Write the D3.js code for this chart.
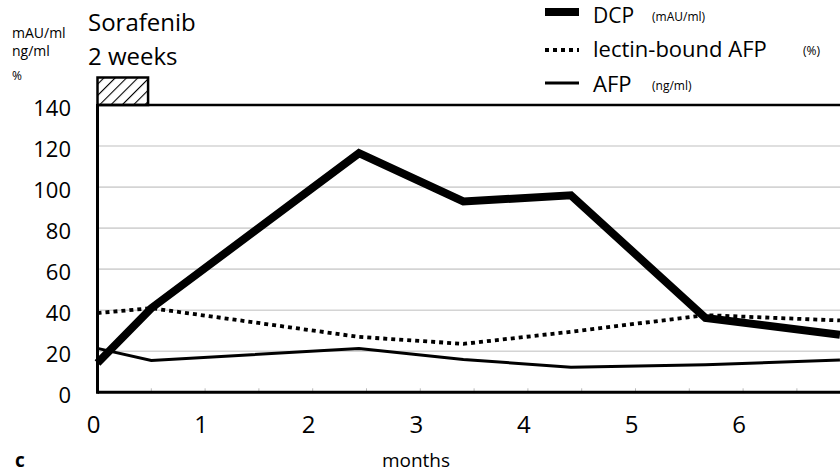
<!DOCTYPE html>
<html><head><meta charset="utf-8">
<script src="https://cdn.jsdelivr.net/npm/d3@7"></script>
<style>html,body{margin:0;padding:0;background:#fff;} svg{display:block;}</style>
</head><body>
<svg id="chart" width="840" height="472"></svg>
<script>
// ---- data ----
const months = [0, 0.5, 2.43, 3.4, 4.4, 5.65, 6.9];
const dcp    = [14.3, 41, 116.5, 93, 96, 36.2, 28];
const lectin = [38.6, 41, 27, 23.6, 29.5, 37.6, 35];
const afp    = [21.4, 15.5, 21.3, 16, 12.2, 13.4, 15.8];
const yTicks = [0, 20, 40, 60, 80, 100, 120, 140];
const xTickLabels = [0, 1, 2, 3, 4, 5, 6];
const xMinorTicks = [0.5, 1, 1.5, 2, 2.5, 3, 3.5, 4, 4.5, 5, 5.5, 6, 6.5];
const treatment = {label1: "Sorafenib", label2: "2 weeks", start: 0, end: 0.47};
const unitLabels = ["mAU/ml", "ng/ml", "%"];
const legendItems = [
  {name: "DCP", unit: "(mAU/ml)", key: "dcp"},
  {name: "lectin-bound AFP", unit: "(%)", key: "lectin"},
  {name: "AFP", unit: "(ng/ml)", key: "afp"}
];

const FONT = "'Open Sans', 'Noto Sans', sans-serif";
const styles = {
  dcp:    {w: 8,   dash: null},
  lectin: {w: 3.8, dash: "4,4"},
  afp:    {w: 3,   dash: null}
};

const svg = d3.select("#chart");
const x = d3.scaleLinear().domain([0, 7]).range([97.5, 97.5 + 107.6 * 7]);
const y = d3.scaleLinear().domain([0, 140]).range([392.3, 105]);

// hatch pattern
const defs = svg.append("defs");
const pat = defs.append("pattern").attr("id", "hatch").attr("patternUnits", "userSpaceOnUse")
  .attr("width", 8).attr("height", 8).attr("patternTransform", "rotate(45)");
pat.append("line").attr("x1", 0).attr("y1", 0).attr("x2", 0).attr("y2", 8)
  .attr("stroke", "#000").attr("stroke-width", 2.2);

// gridlines
svg.append("g").selectAll("line").data(yTicks.filter(t => t > 0 && t < 140)).join("line")
  .attr("x1", x(0)).attr("x2", 840).attr("y1", d => y(d)).attr("y2", d => y(d))
  .attr("stroke", "#d4d4d4").attr("stroke-width", 1.6);

// minor x ticks (inside)
svg.append("g").selectAll("line").data(xMinorTicks).join("line")
  .attr("x1", d => x(d)).attr("x2", d => x(d)).attr("y1", y(0)).attr("y2", y(0) - 4)
  .attr("stroke", "#bbb").attr("stroke-width", 1);

// frame
svg.append("line").attr("x1", x(0)).attr("x2", 840).attr("y1", y(140)).attr("y2", y(140))
  .attr("stroke", "#000").attr("stroke-width", 2.5);
svg.append("line").attr("x1", x(0)).attr("x2", 840).attr("y1", y(0)).attr("y2", y(0))
  .attr("stroke", "#000").attr("stroke-width", 3);
svg.append("line").attr("x1", x(0)).attr("x2", x(0)).attr("y1", y(140) - 1).attr("y2", y(0) + 1.5)
  .attr("stroke", "#000").attr("stroke-width", 3);

// treatment box
svg.append("rect").attr("x", x(treatment.start)).attr("y", 77.5)
  .attr("width", x(treatment.end) - x(treatment.start)).attr("height", y(140) - 77.5)
  .attr("fill", "url(#hatch)").attr("stroke", "#000").attr("stroke-width", 2.5);
svg.append("text").attr("x", 88).attr("y", 31).text(treatment.label1)
  .attr("font-family", FONT).attr("font-size", 24).attr("fill", "#000");
svg.append("text").attr("x", 88).attr("y", 65).text(treatment.label2)
  .attr("font-family", FONT).attr("font-size", 24).attr("fill", "#000");

// unit labels
const unitY = [38, 56, 80];
const unitSize = [14, 14, 12];
unitLabels.forEach((u, i) => {
  svg.append("text").attr("x", 12).attr("y", unitY[i]).text(u)
    .attr("font-family", FONT).attr("font-size", unitSize[i]).attr("fill", "#000");
});

// y tick labels
svg.append("g").selectAll("text").data(yTicks).join("text")
  .attr("x", 71).attr("y", d => y(d) + 3).attr("dy", "0.35em").attr("text-anchor", "end")
  .text(d => d).attr("font-family", FONT).attr("font-size", 22).attr("fill", "#000");

// x tick labels
svg.append("g").selectAll("text").data(xTickLabels).join("text")
  .attr("x", d => x(d) - 4).attr("y", 433).attr("text-anchor", "middle")
  .text(d => d).attr("font-family", FONT).attr("font-size", 24).attr("fill", "#000");

svg.append("text").attr("x", 416).attr("y", 467).attr("text-anchor", "middle").text("months")
  .attr("font-family", FONT).attr("font-size", 19).attr("fill", "#000");
svg.append("text").attr("x", 15).attr("y", 467).text("c")
  .attr("font-family", FONT).attr("font-size", 19).attr("font-weight", "bold").attr("fill", "#000");

// lines
const series = {dcp, lectin, afp};
const line = d3.line().x(d => x(d[0])).y(d => y(d[1]));
["lectin", "afp", "dcp"].forEach(k => {
  const pts = months.map((m, i) => [m, series[k][i]]);
  const p = svg.append("path").attr("d", line(pts)).attr("fill", "none")
    .attr("stroke", "#000").attr("stroke-width", styles[k].w)
    .attr("stroke-linejoin", "miter").attr("stroke-miterlimit", 10);
  if (styles[k].dash) p.attr("stroke-dasharray", styles[k].dash);
});

// legend
const legY = [12, 50, 83];
const legTextY = [23, 57, 92];
const unitX = [652, 803, 652];
legendItems.forEach((it, i) => {
  const s = styles[it.key];
  const l = svg.append("line").attr("x1", 545).attr("x2", 579).attr("y1", legY[i]).attr("y2", legY[i])
    .attr("stroke", "#000").attr("stroke-width", s.w);
  if (s.dash) l.attr("stroke-dasharray", s.dash);
  svg.append("text").attr("x", 593).attr("y", legTextY[i]).text(it.name)
    .attr("font-family", FONT).attr("font-size", i === 0 ? 21 : 22).attr("fill", "#000");
  svg.append("text").attr("x", unitX[i]).attr("y", legTextY[i] - 2).text(it.unit)
    .attr("font-family", FONT).attr("font-size", 12).attr("fill", "#000");
});
</script>
</body></html>
